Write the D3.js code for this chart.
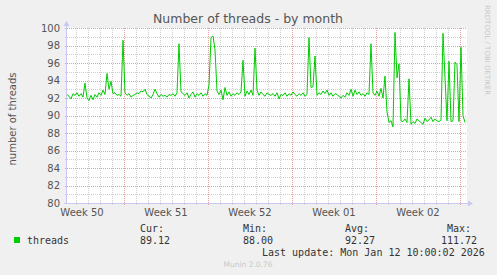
<!DOCTYPE html>
<html>
  <head>
    <style>
    body { margin: 0; background: #f0f0f0; }
    svg { display: block; }
    text { font-family: "DejaVu Sans", sans-serif; }
    .mono { font-family: "DejaVu Sans Mono", monospace; }
    </style>
  </head>
  <body>

    <svg width="497" height="275"></svg>

    <script src="https://cdn.jsdelivr.net/npm/d3@7/dist/d3.min.js"></script>
    <script>

      // samples every 4 hours, from Dec 10 06:00 to Jan 12 10:00
      const startTime = new Date(2025, 11, 10, 6)
      const endTime = new Date(2026, 0, 12, 14)
      const stepHours = 4

      const threads = [
        92.4, 92.2, 91.9, 92.5, 92.3, 92.6, 92.2, 92.5, 92.1, 93.7,
        92.0, 91.7, 92.3, 91.8, 92.4, 92.1, 92.6, 92.3, 92.9, 92.4,
        94.8, 93.0, 93.9, 92.5, 92.6, 92.3, 92.4, 92.2, 98.6, 92.6,
        92.3, 92.5, 92.1, 92.3, 92.4, 92.6, 92.5, 92.8, 92.7, 93.0,
        92.4, 92.2, 92.0, 92.4, 93.0, 92.5, 92.1, 92.4, 92.2, 92.3,
        92.1, 92.4, 92.3, 92.5, 92.2, 92.6, 98.2, 92.7, 92.5, 92.3,
        92.6, 92.0, 92.4, 92.7, 92.1, 92.5, 92.3, 92.6, 92.2, 92.5,
        92.3, 93.5, 98.9, 99.1, 97.5, 92.8, 92.4, 92.9, 91.8, 93.2,
        92.3, 92.7, 92.2, 92.5, 92.3, 92.6, 92.4, 92.7, 96.3, 92.2,
        92.8, 92.4, 92.9, 92.3, 97.7, 92.9, 92.3, 92.7, 92.4, 92.2,
        92.6, 92.4, 92.3, 92.5, 92.2, 92.6, 91.9, 92.4, 92.3, 92.6,
        92.2, 92.5, 92.3, 92.7, 92.4, 92.2, 92.5, 92.3, 92.6, 92.2,
        92.4, 98.9, 93.2, 93.3, 96.8, 92.3, 92.6, 92.4, 92.8, 92.5,
        92.9, 92.3, 92.6, 92.2, 92.5, 92.4, 92.2, 92.0, 92.3, 92.1,
        92.6, 92.3, 93.0, 92.2, 92.9, 92.4, 92.7, 92.3, 92.5, 92.2,
        92.6, 92.4, 98.2, 92.6, 92.3, 92.8, 92.2, 93.1, 92.0, 94.5,
        90.4, 89.2, 89.4, 88.7, 99.5, 94.3, 95.9, 89.4, 89.3, 89.6,
        89.2, 94.2, 89.0, 89.3, 89.1, 89.6, 89.4, 89.2, 89.0, 89.7,
        89.3, 89.5, 89.8, 89.3, 89.6, 89.4, 89.3, 89.5, 99.4, 94.3,
        89.4, 96.2, 89.3, 89.4, 96.1, 95.8, 89.3, 97.8, 90.0, 89.2
      ]

      const weekLabels = ['Week 50', 'Week 51', 'Week 52', 'Week 01', 'Week 02']
      const yLabels = [80, 82, 84, 86, 88, 90, 92, 94, 96, 98, 100]
      const legendHeads = ['Cur:', 'Min:', 'Avg:', 'Max:']
      const legendValues = ['89.12', '88.00', '92.27', '111.72']

      const svg = d3.select('svg')
      const plot = {left: 67, right: 467, top: 28, bottom: 203}

      const x = d3.scaleTime().domain([startTime, endTime]).range([plot.left, plot.right])
      const y = d3.scaleLinear().domain([80, 100]).range([plot.bottom, plot.top])

      const data = threads.map((v, i) => ({
        time: d3.timeHour.offset(startTime, i * stepHours),
        value: v
      }))

      svg.append('rect')
        .attr('x', plot.left).attr('y', plot.top)
        .attr('width', plot.right - plot.left).attr('height', plot.bottom - plot.top)
        .attr('fill', '#fff')

      const grid = svg.append('g').attr('shape-rendering', 'crispEdges')

      // minor grid: each day, each unit
      grid.selectAll('.vmin')
        .data(d3.timeDay.range(d3.timeDay.ceil(startTime), endTime))
        .enter().append('line')
          .attr('x1', d => Math.round(x(d)) + 0.5).attr('x2', d => Math.round(x(d)) + 0.5)
          .attr('y1', plot.top).attr('y2', plot.bottom + 2)
          .attr('stroke', '#cfcfcf').attr('stroke-dasharray', '1,1')

      grid.selectAll('.hmin')
        .data(y.ticks(20).filter(d => d % 2 !== 0))
        .enter().append('line')
          .attr('x1', plot.left - 2).attr('x2', plot.right)
          .attr('y1', d => Math.round(y(d)) + 0.5).attr('y2', d => Math.round(y(d)) + 0.5)
          .attr('stroke', '#cfcfcf').attr('stroke-dasharray', '1,1')

      // major grid: each monday, every two units
      const mondays = d3.timeMonday.range(startTime, endTime)
      grid.selectAll('.vmaj')
        .data(mondays)
        .enter().append('line')
          .attr('x1', d => Math.round(x(d)) + 0.5).attr('x2', d => Math.round(x(d)) + 0.5)
          .attr('y1', plot.top).attr('y2', plot.bottom + 3)
          .attr('stroke', '#eaa0a0').attr('stroke-dasharray', '1,1')

      grid.selectAll('.hmaj')
        .data(yLabels.filter(d => d > 80))
        .enter().append('line')
          .attr('x1', plot.left - 2).attr('x2', plot.right)
          .attr('y1', d => Math.round(y(d)) + 0.5).attr('y2', d => Math.round(y(d)) + 0.5)
          .attr('stroke', '#eaa0a0').attr('stroke-dasharray', '1,1')

      // axes
      const axisColor = '#c8c8f0'
      grid.append('line')
        .attr('x1', plot.left - 0.5).attr('x2', plot.left - 0.5)
        .attr('y1', plot.bottom + 1).attr('y2', plot.top - 4)
        .attr('stroke', axisColor)
      grid.append('line')
        .attr('x1', plot.left - 3).attr('x2', plot.right + 3)
        .attr('y1', plot.bottom + 0.5).attr('y2', plot.bottom + 0.5)
        .attr('stroke', axisColor)
      svg.append('path')
        .attr('d', `M${plot.left - 3.5},${plot.top - 2}L${plot.left - 0.5},${plot.top - 7}L${plot.left + 2.5},${plot.top - 2}Z`)
        .attr('fill', axisColor)
      svg.append('path')
        .attr('d', `M${plot.right + 1},${plot.bottom - 2.5}L${plot.right + 6},${plot.bottom + 0.5}L${plot.right + 1},${plot.bottom + 3.5}Z`)
        .attr('fill', axisColor)

      // series
      const line = d3.line()
        .x(d => x(d.time))
        .y(d => y(d.value))

      svg.append('path')
        .datum(data)
        .attr('fill', 'none')
        .attr('stroke', '#00cc00')
        .attr('stroke-width', 1)
        .attr('d', line)

      // tick labels
      svg.selectAll('.ylab')
        .data(yLabels)
        .enter().append('text')
          .attr('x', 60)
          .attr('y', d => y(d) + 3.6)
          .attr('text-anchor', 'end')
          .attr('font-size', 10)
          .attr('fill', '#555')
          .text(d => d)

      svg.selectAll('.xlab')
        .data(weekLabels)
        .enter().append('text')
          .attr('x', (d, i) => x(d3.timeHour.offset(mondays[0], -84 + i * 168)))
          .attr('y', 216)
          .attr('text-anchor', 'middle')
          .attr('font-size', 10)
          .attr('fill', '#555')
          .text(d => d)

      // titles
      svg.append('text')
        .attr('x', 248).attr('y', 23)
        .attr('text-anchor', 'middle')
        .attr('font-size', 12.5)
        .attr('fill', '#555')
        .text('Number of threads - by month')

      svg.append('text')
        .attr('transform', 'translate(15.5,119) rotate(-90)')
        .attr('text-anchor', 'middle')
        .attr('font-size', 10)
        .attr('fill', '#555')
        .text('number of threads')

      svg.append('text')
        .attr('transform', 'translate(485,5) rotate(90)')
        .attr('font-size', 7)
        .attr('fill', '#c8c8c8')
        .text('RRDTOOL / TOBI OETIKER')

      // legend
      const colX = [140, 243, 345, 447]
      const valX = [140, 243, 345, 441]
      svg.append('rect')
        .attr('x', 14).attr('y', 237)
        .attr('width', 6).attr('height', 6)
        .attr('fill', '#00cc00')
      svg.append('text')
        .attr('class', 'mono')
        .attr('x', 27).attr('y', 244)
        .attr('font-size', 10).attr('fill', '#333')
        .text('threads')
      svg.selectAll('.head')
        .data(legendHeads)
        .enter().append('text')
          .attr('class', 'mono')
          .attr('x', (d, i) => colX[i]).attr('y', 231.5)
          .attr('font-size', 10).attr('fill', '#333')
          .text(d => d)
      svg.selectAll('.val')
        .data(legendValues)
        .enter().append('text')
          .attr('class', 'mono')
          .attr('x', (d, i) => valX[i]).attr('y', 244)
          .attr('font-size', 10).attr('fill', '#333')
          .text(d => d)
      svg.append('text')
        .attr('class', 'mono')
        .attr('x', 262).attr('y', 255.5)
        .attr('font-size', 10).attr('fill', '#333')
        .text('Last update: Mon Jan 12 10:00:02 2026')

      svg.append('text')
        .attr('x', 248).attr('y', 267)
        .attr('text-anchor', 'middle')
        .attr('font-size', 7.5)
        .attr('fill', '#c8c8c8')
        .text('Munin 2.0.76')

    </script>
  </body>
</html>
